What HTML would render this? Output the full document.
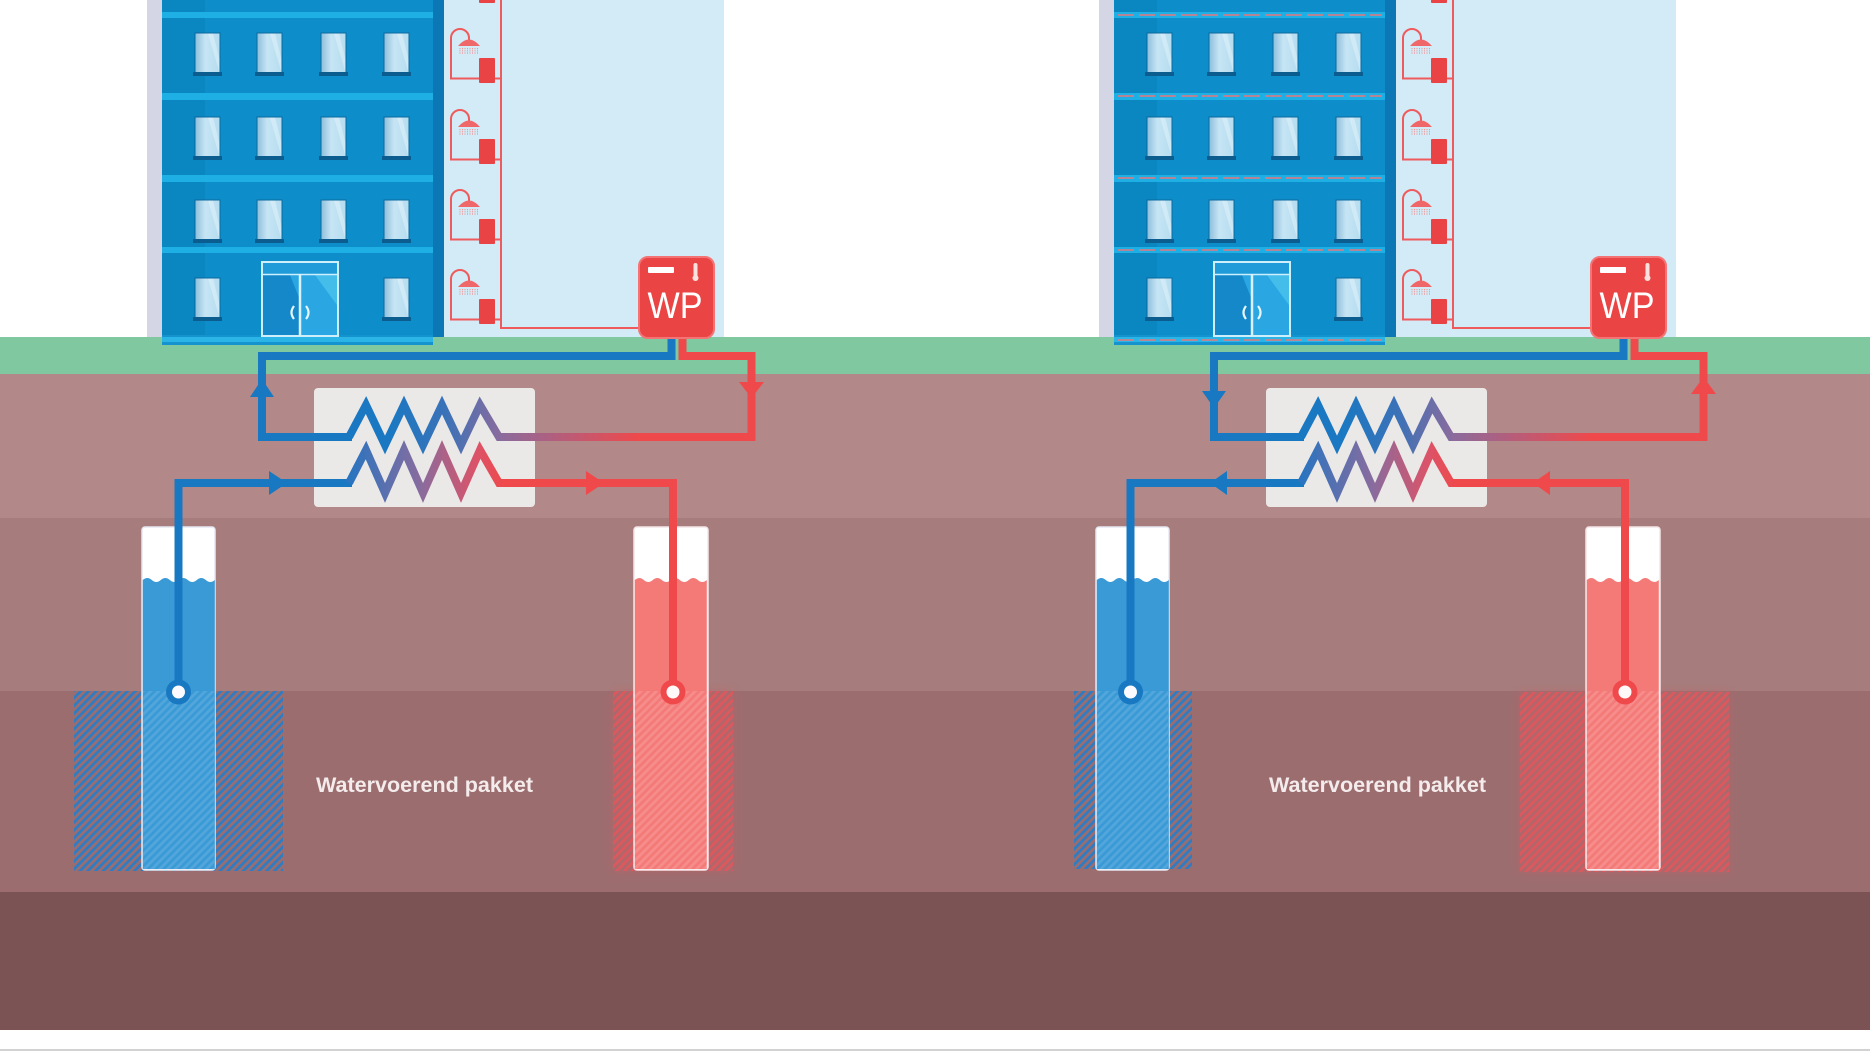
<!DOCTYPE html>
<html><head><meta charset="utf-8">
<style>html,body{margin:0;padding:0;background:#fff;}svg{display:block}</style>
</head>
<body>
<svg xmlns="http://www.w3.org/2000/svg" xmlns:xlink="http://www.w3.org/1999/xlink" width="1870" height="1052" viewBox="0 0 1870 1052">
<defs>
  <linearGradient id="wg" x1="0" y1="0" x2="1" y2="0">
    <stop offset="0" stop-color="#8fbfdc"/>
    <stop offset="0.4" stop-color="#c6e5f4"/>
    <stop offset="1" stop-color="#b6ddf0"/>
  </linearGradient>
  <linearGradient id="gUp" gradientUnits="userSpaceOnUse" x1="390" y1="0" x2="640" y2="0">
    <stop offset="0" stop-color="#1a78c2"/>
    <stop offset="0.22" stop-color="#3a72b8"/>
    <stop offset="0.45" stop-color="#8c6b9c"/>
    <stop offset="1" stop-color="#f0494b"/>
  </linearGradient>
  <linearGradient id="gLo" gradientUnits="userSpaceOnUse" x1="350" y1="0" x2="505" y2="0">
    <stop offset="0" stop-color="#2a74c0"/>
    <stop offset="0.45" stop-color="#876c9e"/>
    <stop offset="0.8" stop-color="#d9546a"/>
    <stop offset="1" stop-color="#f0494b"/>
  </linearGradient>
  <pattern id="hb" patternUnits="userSpaceOnUse" width="5.5" height="5.5" patternTransform="rotate(45)">
    <rect width="2.8" height="5.5" fill="#2f7cc2"/>
  </pattern>
  <pattern id="hr" patternUnits="userSpaceOnUse" width="5.5" height="5.5" patternTransform="rotate(45)">
    <rect width="2.8" height="5.5" fill="#e4565c"/>
  </pattern>
  <pattern id="hw" patternUnits="userSpaceOnUse" width="5.5" height="5.5" patternTransform="rotate(45)">
    <rect width="2.8" height="5.5" fill="#ffffff"/>
  </pattern>
  <filter id="blur" x="-20%" y="-20%" width="140%" height="140%"><feGaussianBlur stdDeviation="5"/></filter>

  <g id="win">
    <rect x="-0.5" y="-0.5" width="26" height="41" fill="#0b6aa0"/>
    <rect x="0.5" y="0.5" width="24" height="39" fill="url(#wg)"/>
    <path d="M13 0.5 L18 0.5 L24.5 26 L24.5 39.5 Z" fill="#e8f6fc" opacity="0.45"/>
    <rect x="-2" y="39" width="29" height="4" fill="#0b5d90"/>
  </g>

  <g id="sh">
    <path d="M479 20.5 H451 V-20 A9 9 0 0 1 469 -20 V-16" fill="none" stroke="#ef5a5c" stroke-width="2"/>
    <path d="M495 20.5 H501" fill="none" stroke="#ef5a5c" stroke-width="2"/>
    <rect x="479" y="0" width="16" height="25" rx="1" fill="#e94346"/>
    <path d="M458 -12 Q469 -25 480 -12 Z" fill="#f0676a"/>
    <path d="M460 -10 V-4 M462.5 -10 V-4 M465 -10 V-4 M467.5 -10 V-4 M470 -10 V-4 M472.5 -10 V-4 M475 -10 V-4 M477.5 -10 V-4" stroke="#f08a8c" stroke-width="0.9" stroke-dasharray="1.2 1"/>
  </g>

  <g id="bld">
    <rect x="147" y="0" width="15" height="337" fill="#d4d6e5"/>
    <rect x="444" y="0" width="280" height="337" fill="#d3ebf7"/>
    <rect x="162" y="0" width="282" height="337" fill="#0d8dc9"/>
    <rect x="162" y="0" width="43" height="337" fill="#0a86c1"/>
    <rect x="433" y="0" width="11" height="337" fill="#0b77b5"/>
    <rect x="162" y="12" width="271" height="6" fill="#1eb0e4"/>
    <rect x="162" y="93" width="271" height="7" fill="#1eb0e4"/>
    <rect x="162" y="175" width="271" height="7" fill="#1eb0e4"/>
    <rect x="162" y="247" width="271" height="6" fill="#1eb0e4"/>
    <rect x="162" y="335" width="271" height="10" fill="#1593cf"/>
    <rect x="162" y="337" width="271" height="5" fill="#2bb5e6"/>
    <!-- windows -->
    <use xlink:href="#win" x="195" y="33"/>
    <use xlink:href="#win" x="257" y="33"/>
    <use xlink:href="#win" x="321" y="33"/>
    <use xlink:href="#win" x="384" y="33"/>
    <use xlink:href="#win" x="195" y="117"/>
    <use xlink:href="#win" x="257" y="117"/>
    <use xlink:href="#win" x="321" y="117"/>
    <use xlink:href="#win" x="384" y="117"/>
    <use xlink:href="#win" x="195" y="200"/>
    <use xlink:href="#win" x="257" y="200"/>
    <use xlink:href="#win" x="321" y="200"/>
    <use xlink:href="#win" x="384" y="200"/>
    <use xlink:href="#win" x="195" y="278"/>
    <use xlink:href="#win" x="384" y="278"/>
    <!-- door -->
    <rect x="262" y="262" width="76" height="74" fill="#2aa7e2"/>
    <polygon points="263,275 290,275 300,300 300,336 263,336" fill="#1588ca"/>
    <polygon points="263,263 337,263 337,274 263,274" fill="#1f9bd9"/>
    <polygon points="315,275 337,275 337,305" fill="#45bdeb"/>
    <rect x="262" y="262" width="76" height="74" fill="none" stroke="#cdeefb" stroke-width="2"/>
    <line x1="262" y1="274.5" x2="338" y2="274.5" stroke="#cdeefb" stroke-width="1.5"/>
    <line x1="300" y1="274" x2="300" y2="336" stroke="#d8f2fb" stroke-width="2.5"/>
    <path d="M294 306 Q289 312.5 294 319 M306 306 Q311 312.5 306 319" fill="none" stroke="#e6f6fc" stroke-width="2.2"/>
    <!-- showers -->
    <use xlink:href="#sh" y="-22"/>
    <use xlink:href="#sh" y="58"/>
    <use xlink:href="#sh" y="139"/>
    <use xlink:href="#sh" y="219"/>
    <use xlink:href="#sh" y="299"/>
    <path d="M501 0 V328 H640" fill="none" stroke="#ef5a5c" stroke-width="2"/>
  </g>

  <g id="sys">
    <rect x="314" y="388" width="221" height="119" rx="4" fill="#ebe8e8"/>
    <path d="M671.5 338 V356 H262 V437 H352" fill="none" stroke="#1878c2" stroke-width="8" stroke-linejoin="miter"/>
    <path d="M349 437 L366 405 L385 445 L404 405 L423 445 L442 405 L461 445 L480 405 L499 437 H751.5 V356 H682.5 V338" fill="none" stroke="url(#gUp)" stroke-width="8" stroke-linejoin="miter"/>
    <path d="M178.5 692 V483 H352" fill="none" stroke="#1878c2" stroke-width="8" stroke-linejoin="miter"/>
    <path d="M349 483 L366 450 L385 493 L404 450 L423 493 L442 450 L461 493 L480 450 L499 483 H673 V692" fill="none" stroke="url(#gLo)" stroke-width="8" stroke-linejoin="miter"/>
    <circle cx="178.5" cy="692" r="12.5" fill="#1878c2"/>
    <circle cx="178.5" cy="692" r="6.5" fill="#fbfbff"/>
    <circle cx="673" cy="692" r="12.5" fill="#f0494b"/>
    <circle cx="673" cy="692" r="6.5" fill="#fff8f8"/>
    <rect x="639" y="257" width="75" height="81" rx="9" fill="#ea4444" stroke="#f47475" stroke-width="2"/>
    <rect x="648" y="267" width="26" height="6" rx="1" fill="#ffffff"/>
    <rect x="693.5" y="263" width="4" height="14" rx="2" fill="#fbe0e0"/>
    <circle cx="695.5" cy="278" r="3" fill="#fbe0e0"/>
    <text x="675" y="318" text-anchor="middle" font-family="Liberation Sans, Arial, sans-serif" font-size="37" fill="#ffffff" textLength="55" lengthAdjust="spacingAndGlyphs">WP</text>
  </g>
</defs>

<rect x="0" y="0" width="1870" height="1052" fill="#ffffff"/>
<rect x="0" y="337" width="1870" height="37" fill="#7fc8a0"/>
<rect x="0" y="374" width="1870" height="145" fill="#b38888"/>
<rect x="0" y="518" width="1870" height="173" fill="#a67c7c"/>
<rect x="0" y="691" width="1870" height="202" fill="#9c6d6f"/>
<rect x="0" y="892" width="1870" height="138" fill="#7b5355"/>
<rect x="0" y="1049" width="1870" height="2" fill="#d2d2d2"/>

<use xlink:href="#bld"/>
<use xlink:href="#bld" transform="translate(952,0)"/>
<g stroke="#e8767a" stroke-width="1.5" stroke-dasharray="16 5" fill="none">
  <line x1="1118" y1="15" x2="1382" y2="15"/>
  <line x1="1118" y1="96" x2="1382" y2="96"/>
  <line x1="1118" y1="178" x2="1382" y2="178"/>
  <line x1="1118" y1="250" x2="1382" y2="250"/>
  <line x1="1118" y1="340" x2="1382" y2="340"/>
</g>

<rect x="74" y="691" width="209" height="180" fill="url(#hb)"/>
<rect x="1074" y="691" width="118" height="178" fill="url(#hb)"/>
<rect x="613" y="691" width="120" height="180" fill="#d85a62" opacity="0.35" filter="url(#blur)"/>
<rect x="613" y="691" width="120" height="180" fill="url(#hr)" opacity="0.85"/>
<rect x="1520" y="692" width="209" height="180" fill="#d85a62" opacity="0.35" filter="url(#blur)"/>
<rect x="1520" y="692" width="209" height="180" fill="url(#hr)" opacity="0.85"/>

<g>
  <rect x="142" y="527" width="73" height="343" rx="3" fill="#ffffff" stroke="#e6e8f2" stroke-width="1.5"/>
  <path d="M142.8 580 q4.5 -4 9 0 t9 0 t9 0 t9 0 t9 0 t9 0 t9 0 t9 0 V869 H142.8 Z" fill="#3a9ad6"/>
  <rect x="143" y="691" width="71" height="178" fill="url(#hw)" opacity="0.12"/>
  <rect x="634" y="527" width="74" height="343" rx="3" fill="#ffffff" stroke="#f4e6e8" stroke-width="1.5"/>
  <path d="M634.8 580 q4.5 -4 9 0 t9 0 t9 0 t9 0 t9 0 t9 0 t9 0 t9 0 V869 H634.8 Z" fill="#f47a78"/>
  <rect x="635" y="691" width="72" height="178" fill="url(#hw)" opacity="0.14"/>

  <rect x="1096" y="527" width="73" height="343" rx="3" fill="#ffffff" stroke="#e6e8f2" stroke-width="1.5"/>
  <path d="M1096.8 580 q4.5 -4 9 0 t9 0 t9 0 t9 0 t9 0 t9 0 t9 0 t9 0 V869 H1096.8 Z" fill="#3a9ad6"/>
  <rect x="1097" y="691" width="71" height="178" fill="url(#hw)" opacity="0.12"/>
  <rect x="1586" y="527" width="74" height="343" rx="3" fill="#ffffff" stroke="#f4e6e8" stroke-width="1.5"/>
  <path d="M1586.8 580 q4.5 -4 9 0 t9 0 t9 0 t9 0 t9 0 t9 0 t9 0 t9 0 V869 H1586.8 Z" fill="#f47a78"/>
  <rect x="1587" y="691" width="72" height="178" fill="url(#hw)" opacity="0.14"/>
</g>

<use xlink:href="#sys"/>
<use xlink:href="#sys" transform="translate(952,0)"/>

<polygon points="262,379 274,397 250,397" fill="#1878c2"/>
<polygon points="739,382 764,382 751.5,398" fill="#f0494b"/>
<polygon points="269,471 269,495 287,483" fill="#1878c2"/>
<polygon points="586,471 586,495 604,483" fill="#f0494b"/>
<polygon points="1202,391 1226,391 1214,408" fill="#1878c2"/>
<polygon points="1227,471 1227,495 1210,483" fill="#1878c2"/>
<polygon points="1550,471 1550,495 1533,483" fill="#f0494b"/>
<polygon points="1703.5,377 1716,394 1691,394" fill="#f0494b"/>

<text x="424.5" y="792" text-anchor="middle" font-family="Liberation Sans, Arial, sans-serif" font-weight="bold" font-size="21" fill="#f4ecec" textLength="217" lengthAdjust="spacingAndGlyphs">Watervoerend pakket</text>
<text x="1377.5" y="792" text-anchor="middle" font-family="Liberation Sans, Arial, sans-serif" font-weight="bold" font-size="21" fill="#f4ecec" textLength="217" lengthAdjust="spacingAndGlyphs">Watervoerend pakket</text>
</svg>
</body></html>
